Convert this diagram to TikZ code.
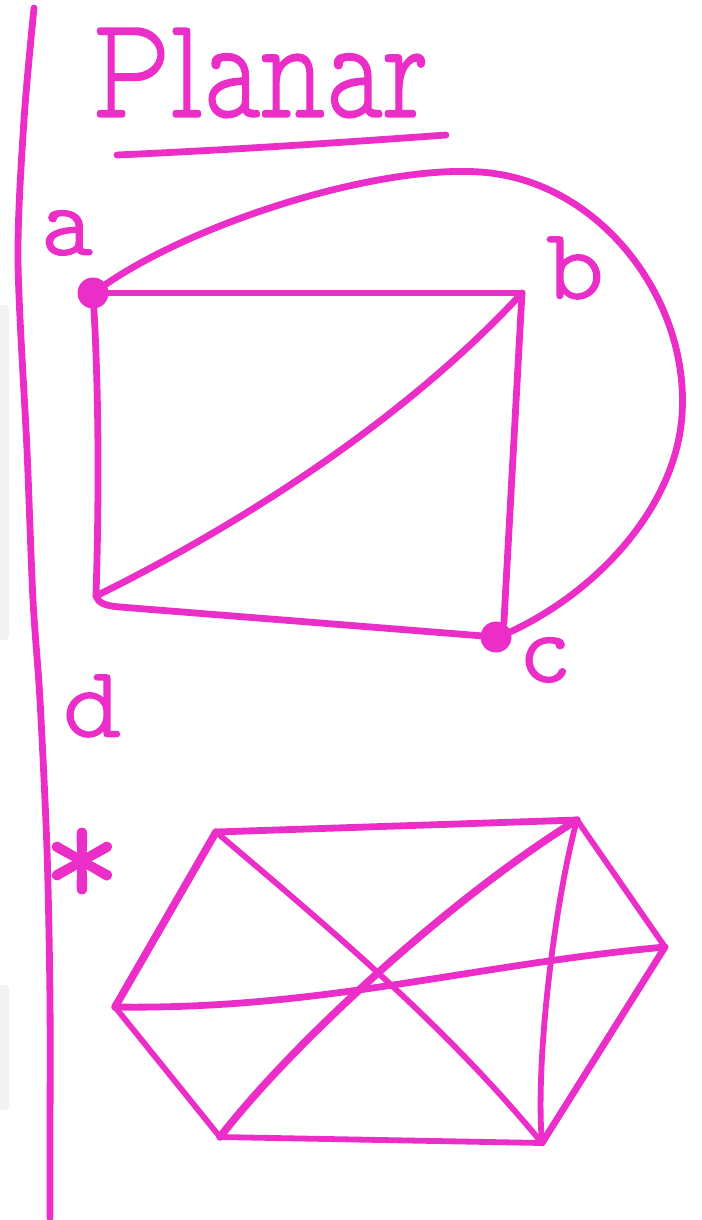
\documentclass[tikz,border=0pt]{standalone}
\usepackage{fontspec}
\newfontfamily\hand[FakeBold=2]{lmmonoproplt10-regular.otf}
\newfontfamily\handtitle[FakeBold=1]{lmmonoproplt10-regular.otf}
\definecolor{ink}{RGB}{236,46,200}
\begin{document}
\begin{tikzpicture}[x=1pt,y=-1pt,
  pen/.style={draw=ink,line width=6.8pt,line cap=round,line join=round},
  thinpen/.style={pen,line width=5.8pt},
  thickpen/.style={pen,line width=7.6pt},
  dot/.style={circle,fill=ink,inner sep=0pt,minimum size=31pt},
  lbl/.style={text=ink,font=\hand\fontsize{100}{100}\selectfont,inner sep=0pt}]
\useasboundingbox (0,0) rectangle (701,1220);
\fill[white] (0,0) rectangle (701,1220);
% faint screen edge shading
\fill[black!5,rounded corners=4pt] (-6,305) rectangle (9,640);
\fill[black!5,rounded corners=4pt] (-6,985) rectangle (9,1110);
% separator line
\draw[pen] plot[smooth] coordinates {(34,8) (24,120) (18,260) (27,450) (33,600) (40,700) (47,850) (50,1000) (50,1150) (50,1218)};
% title
\node[lbl,font=\handtitle\fontsize{112}{112}\selectfont,anchor=base west] (title) at (92,117) {\scalebox{1}[1.3]{Planar}};
\draw[pen] (117,155) .. controls (230,150) and (350,142) .. (446,135);

% ---------- graph 1 ----------
\node[dot] (a) at (93,293) {};
\node[dot] (c) at (496,637) {};
\coordinate (b) at (522,293);
\coordinate (d) at (96,596);
\node[lbl] (la) at (67,233) {a};
\node[lbl] (lb) at (575,268) {b};
\node[lbl] (lc) at (545,660) {c};
\node[lbl] (ld) at (92,706) {d};

\draw[pen] (a) -- (b);
\draw[pen] (b) -- (c.60);
\draw[pen] (a) .. controls (99,400) and (99,500) .. (d);
\draw[pen] (d) .. controls (98,603) and (106,606) .. (120,607) -- (c);
\draw[pen] (d) .. controls (230,530) and (400,425) .. (b);
\draw[pen] (a) .. controls (200,220) and (380,165) .. (480,172)
   .. controls (600,180) and (690,300) .. (682,415)
   .. controls (676,505) and (600,590) .. (c.20);

% ---------- graph 2 ----------
\node[lbl,font=\hand\fontsize{150}{150}\selectfont] (star) at (82,868) {*};
\coordinate (tl) at (216,832);
\coordinate (tr) at (577,820);
\coordinate (r)  at (665,947);
\coordinate (br) at (542,1143);
\coordinate (bl) at (220,1137);
\coordinate (l)  at (115,1007);

\draw[pen] (tl) -- (tr);
\draw[thinpen] (tr) -- (r);
\draw[pen] (r) -- (br);
\draw[thinpen] (br) -- (bl);
\draw[thinpen] (bl) -- (l);
\draw[thickpen] (l) -- (tl);
\draw[thinpen] (tl) .. controls (328,927) and (445,1025) .. (br);
\draw[thickpen] (tr) .. controls (455,895) and (295,1040) .. (bl);
\draw[thinpen] (tr) .. controls (555,900) and (535,1060) .. (br);
\draw[pen] (l) .. controls (320,1010) and (470,965) .. (r);
\end{tikzpicture}
\end{document}
